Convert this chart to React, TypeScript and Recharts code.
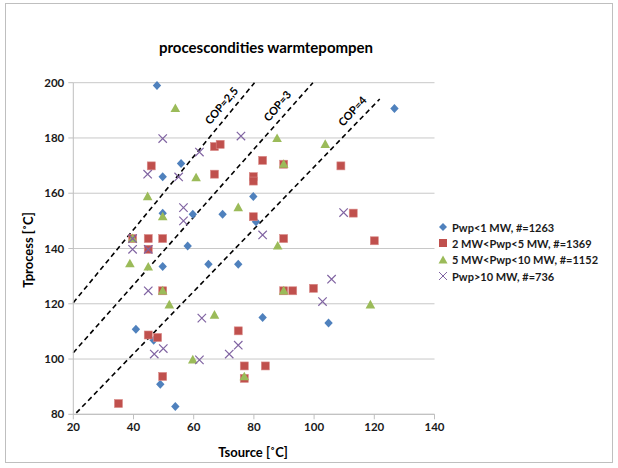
import React from 'react'
import {
  ScatterChart,
  Scatter,
  XAxis,
  YAxis,
  CartesianGrid,
  ReferenceLine,
  ReferenceDot,
} from 'recharts'

// [Tsource, Tprocess] pairs per capacity class
const pwpBelow1: [number, number][] = [
  [47.8, 199], [126.7, 190.7], [55.8, 170.8], [49.7, 166], [49.7, 152.8],
  [59.7, 152.4], [69.6, 152.4], [79.8, 158.8], [80.7, 149.7], [58, 140.9],
  [49.7, 133.5], [64.9, 134.3], [74.8, 134.3], [82.9, 115], [104.8, 113],
  [40.8, 110.8], [46.7, 106.8], [48.9, 90.9], [53.9, 82.8],
]

const pwp2to5: [number, number][] = [
  [45.9, 169.9], [66.9, 176.9], [68.8, 177.7], [82.9, 171.9], [66.9, 166.9],
  [79.8, 166], [79.8, 164.4], [89.9, 170.5], [108.9, 169.9], [113, 152.8],
  [79.8, 151.5], [39.7, 143.6], [44.9, 143.6], [49.7, 143.6], [89.9, 143.6],
  [120, 142.8], [44.9, 139.7], [49.7, 124.7], [89.9, 124.7], [92.9, 124.7],
  [99.8, 125.6], [44.9, 108.7], [48, 107.8], [74.8, 110.2], [76.8, 97.5],
  [83.8, 97.5], [76.8, 93], [49.7, 93.7], [35, 83.9],
]

const pwp5to10: [number, number][] = [
  [53.9, 190.7], [87.7, 179.8], [103.7, 177.7], [89.9, 170.5], [60.8, 165.6],
  [44.7, 158.8], [74.8, 154.8], [49.7, 151.5], [39.7, 143.6], [87.9, 140.9],
  [38.8, 134.5], [44.9, 133.3], [49.7, 124.7], [89.9, 124.7], [51.9, 119.6],
  [118.7, 119.6], [66.9, 115.9], [59.7, 99.7], [76.8, 93.6],
]

const pwpAbove10: [number, number][] = [
  [49.7, 179.8], [75.7, 180.7], [61.9, 174.9], [44.7, 166.9], [55, 165.9],
  [56.6, 154.8], [56.6, 150], [109.8, 153], [39.7, 143.6], [39.7, 139.7],
  [44.9, 139.7], [82.9, 144.9], [105.8, 128.9], [102.8, 120.8], [44.9, 124.7],
  [62.7, 114.8], [46.9, 101.8], [49.9, 103.8], [61.9, 99.7], [71.8, 101.8],
  [74.8, 105],
]

// COP lines: start and end point in data units
const copLabels = ['COP=2,5', 'COP=3', 'COP=4']
const copLines: [number, number, number, number][] = [
  [20, 120.4, 80.2, 200],
  [20, 102.3, 99.6, 200],
  [21, 80.5, 121.8, 194.1],
]
const copLabelAt: [number, number, number][] = [
  [69.1, 191.8, -50],
  [87.7, 191.7, -50],
  [112.6, 189.8, -47],
]

const xTicks = [20, 40, 60, 80, 100, 120, 140]
const yTicks = [80, 100, 120, 140, 160, 180, 200]

const legendNames = [
  'Pwp<1 MW, #=1263',
  '2 MW<Pwp<5 MW, #=1369',
  '5 MW<Pwp<10 MW, #=1152',
  'Pwp>10 MW, #=736',
]

const BLUE = '#4F81BD'
const RED = '#C0504D'
const GREEN = '#9BBB59'
const PURPLE = '#8064A2'
const FONT = 'Lato, "Open Sans", sans-serif'

const toPoints = (arr: [number, number][]) => arr.map(([x, y]) => ({ x, y }))

function Diamond({ cx, cy }: any) {
  return <path d={`M${cx},${cy - 4.5}L${cx + 4.2},${cy}L${cx},${cy + 4.5}L${cx - 4.2},${cy}Z`} fill={BLUE} />
}
function Square({ cx, cy }: any) {
  return <rect x={cx - 4} y={cy - 4} width={8} height={8} fill={RED} stroke="#d98a88" strokeWidth={0.6} />
}
function Triangle({ cx, cy }: any) {
  return <path d={`M${cx},${cy - 5}L${cx + 4.8},${cy + 3.6}L${cx - 4.8},${cy + 3.6}Z`} fill={GREEN} />
}
function Cross({ cx, cy }: any) {
  const s = 4.2
  return (
    <path
      d={`M${cx - s},${cy - s}L${cx + s},${cy + s}M${cx - s},${cy + s}L${cx + s},${cy - s}`}
      stroke={PURPLE}
      strokeWidth={1.2}
      fill="none"
    />
  )
}

function LegendIcon({ i }: { i: number }) {
  const c = 6
  if (i === 0) return <path d={`M${c},${c - 4}L${c + 4},${c}L${c},${c + 4}L${c - 4},${c}Z`} fill={BLUE} />
  if (i === 1) return <rect x={c - 4} y={c - 4} width={8} height={8} fill={RED} />
  if (i === 2) return <path d={`M${c},${c - 4.5}L${c + 4.5},${c + 3.5}L${c - 4.5},${c + 3.5}Z`} fill={GREEN} />
  return (
    <path
      d={`M${c - 4},${c - 4}L${c + 4},${c + 4}M${c - 4},${c + 4}L${c + 4},${c - 4}`}
      stroke={PURPLE}
      strokeWidth={1}
    />
  )
}

export default function App() {
  return (
    <div
      style={{
        position: 'absolute',
        left: 5,
        top: 3,
        width: 606,
        height: 458,
        border: '1px solid #bfbfbf',
        background: '#fff',
        fontFamily: FONT,
      }}
    >
      {/* title */}
      <div
        style={{
          position: 'absolute',
          left: 0,
          top: 33,
          width: 520,
          lineHeight: '20px',
          textAlign: 'center',
          fontSize: 15,
          fontWeight: 'bold',
          color: '#000',
        }}
      >
        procescondities warmtepompen
      </div>

      <ScatterChart width={606} height={458} margin={{ top: 78.7, right: 177.5, left: 27.3, bottom: 17.7 }}>
        <CartesianGrid horizontal vertical={false} stroke="#c8c8c8" />
        <XAxis
          type="number"
          dataKey="x"
          domain={[20, 140]}
          ticks={xTicks}
          height={30}
          stroke="#bfbfbf"
          tickSize={5}
          tickMargin={4}
          tick={{ fill: '#1a1a1a', fontSize: 11.5, fontWeight: 'bold', fontFamily: FONT }}
        />
        <YAxis
          type="number"
          dataKey="y"
          domain={[80, 200]}
          ticks={yTicks}
          width={40}
          stroke="#bfbfbf"
          tickSize={5}
          tickMargin={4}
          tick={{ fill: '#1a1a1a', fontSize: 11.5, fontWeight: 'bold', fontFamily: FONT }}
        />
        {copLines.map(([x1, y1, x2, y2], i) => (
          <ReferenceLine
            key={copLabels[i]}
            segment={[{ x: x1, y: y1 }, { x: x2, y: y2 }]}
            stroke="#000"
            strokeWidth={1.6}
            strokeDasharray="5 3.5"
          />
        ))}
        <Scatter data={toPoints(pwpBelow1)} shape={Diamond} isAnimationActive={false} />
        <Scatter data={toPoints(pwp2to5)} shape={Square} isAnimationActive={false} />
        <Scatter data={toPoints(pwp5to10)} shape={Triangle} isAnimationActive={false} />
        <Scatter data={toPoints(pwpAbove10)} shape={Cross} isAnimationActive={false} />
        {copLabelAt.map(([x, y, a], i) => (
          <ReferenceDot
            key={'l' + i}
            x={x}
            y={y}
            r={0}
            shape={(p: any) => (
              <text
                x={p.cx}
                y={p.cy}
                transform={`rotate(${a}, ${p.cx}, ${p.cy})`}
                textAnchor="middle"
                dominantBaseline="central"
                fontSize={11}
                fontWeight="bold"
                fontFamily={FONT}
                fill="#000"
              >
                {copLabels[i]}
              </text>
            )}
          />
        ))}
      </ScatterChart>

      {/* axis titles */}
      <div
        style={{
          position: 'absolute',
          left: 22 - 60,
          top: 246 - 10,
          width: 120,
          height: 20,
          lineHeight: '20px',
          textAlign: 'center',
          transform: 'rotate(-90deg)',
          fontSize: 13,
          fontWeight: 'bold',
        }}
      >
        Tprocess [˚C]
      </div>
      <div
        style={{
          position: 'absolute',
          left: 147,
          top: 438,
          width: 200,
          height: 20,
          lineHeight: '20px',
          textAlign: 'center',
          fontSize: 13,
          fontWeight: 'bold',
        }}
      >
        Tsource [˚C]
      </div>

      {/* legend */}
      <div style={{ position: 'absolute', left: 431, top: 215 }}>
        {legendNames.map((name, i) => (
          <div key={name} style={{ display: 'flex', alignItems: 'center', height: 16.3 }}>
            <svg width={12} height={12} style={{ marginRight: 3 }}>
              <LegendIcon i={i} />
            </svg>
            <span style={{ fontSize: 11, fontWeight: 'bold', color: '#1a1a1a', whiteSpace: 'nowrap' }}>{name}</span>
          </div>
        ))}
      </div>
    </div>
  )
}
